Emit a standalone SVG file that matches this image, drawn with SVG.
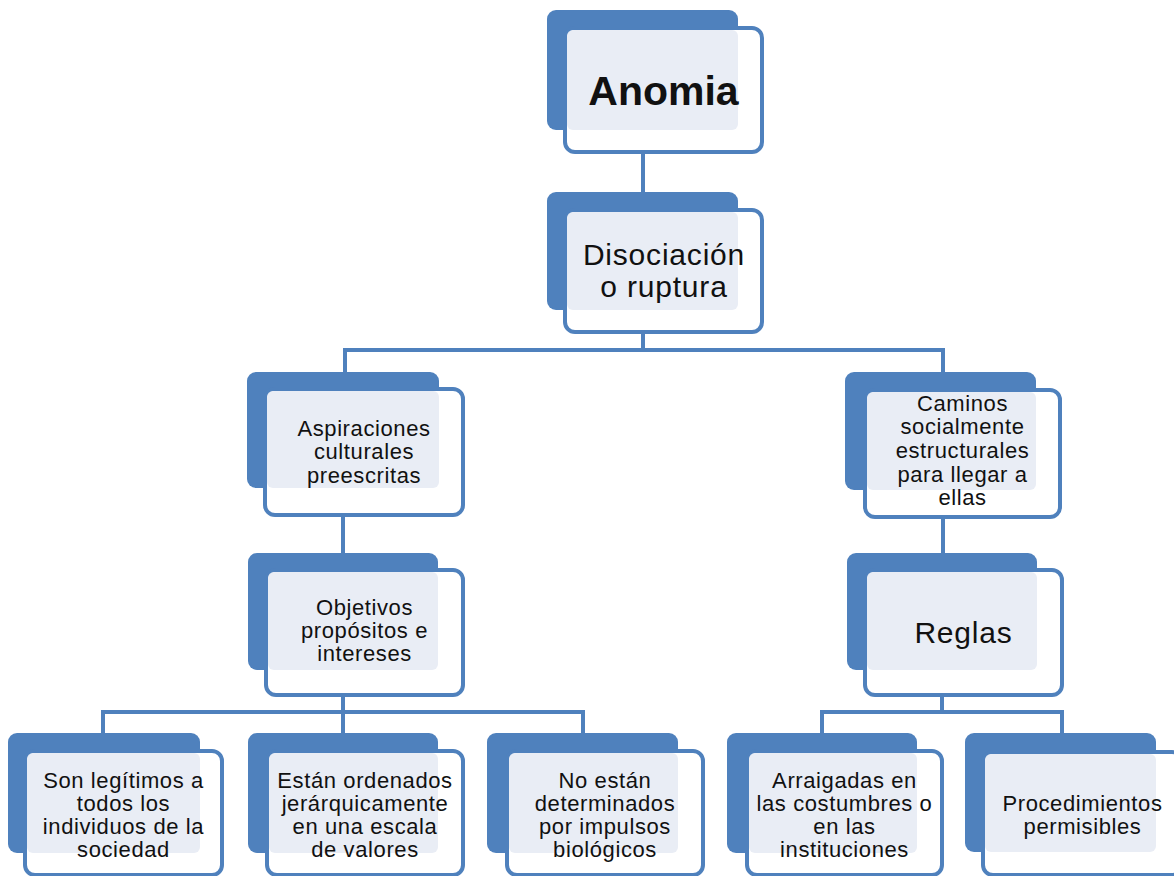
<svg xmlns="http://www.w3.org/2000/svg" width="1174" height="876" viewBox="0 0 1174 876">
<style>
.bk{fill:#4F81BD;}
.fr{fill:#FFFFFF;stroke:#4F81BD;stroke-width:4;}
.lt{fill:#E9EDF5;}
.cn{fill:none;stroke:#4F81BD;stroke-width:4;}
text{font-family:"Liberation Sans",Arial,sans-serif;fill:#111;text-anchor:middle;}
.s{font-size:22px;letter-spacing:0.6px;}
.m{font-size:30px;letter-spacing:0.8px;}
.b{font-size:41px;font-weight:bold;}
</style>
<rect width="1174" height="876" fill="#FFFFFF"/>
<g id="connectors">
<path class="cn" d="M643 150V194"/>
<path class="cn" d="M643 330V350M345 372V350H943V372"/>
<path class="cn" d="M343 513V555"/>
<path class="cn" d="M943 515V555"/>
<path class="cn" d="M343 693V712M103 735V712H583V735M343 712V735"/>
<path class="cn" d="M942 693V712M822 735V712H1062V735"/>
</g>
<g id="n-anomia">
<rect class="bk" x="547" y="10" width="191" height="120" rx="9"/>
<rect class="fr" x="565" y="28" width="197" height="124" rx="10"/>
<rect class="lt" x="567" y="30" width="171" height="100" rx="6"/>
<text class="b" x="663.5" y="105">Anomia</text>
</g>
<g id="n-disociacion">
<rect class="bk" x="547" y="192" width="191" height="118" rx="9"/>
<rect class="fr" x="565" y="210" width="197" height="122" rx="10"/>
<rect class="lt" x="567" y="212" width="171" height="98" rx="6"/>
<text class="m" x="664" y="265">Disociación</text>
<text class="m" x="664" y="297">o ruptura</text>
</g>
<g id="n-aspiraciones">
<rect class="bk" x="247" y="372" width="192" height="116" rx="9"/>
<rect class="fr" x="265" y="389" width="198" height="126" rx="10"/>
<rect class="lt" x="267" y="391" width="172" height="97" rx="6"/>
<text class="s" x="364" y="436">Aspiraciones</text>
<text class="s" x="364" y="459">culturales</text>
<text class="s" x="364" y="483">preescritas</text>
</g>
<g id="n-caminos">
<rect class="bk" x="845" y="372" width="191" height="118" rx="9"/>
<rect class="fr" x="865" y="390" width="195" height="127" rx="10"/>
<rect class="lt" x="867" y="392" width="169" height="98" rx="6"/>
<text class="s" x="962.5" y="411">Caminos</text>
<text class="s" x="962.5" y="434">socialmente</text>
<text class="s" x="962.5" y="458">estructurales</text>
<text class="s" x="962.5" y="482">para llegar a</text>
<text class="s" x="962.5" y="505">ellas</text>
</g>
<g id="n-objetivos">
<rect class="bk" x="248" y="553" width="190" height="117" rx="9"/>
<rect class="fr" x="266" y="570" width="197" height="125" rx="10"/>
<rect class="lt" x="268" y="572" width="170" height="98" rx="6"/>
<text class="s" x="364.5" y="615">Objetivos</text>
<text class="s" x="364.5" y="638">propósitos e</text>
<text class="s" x="364.5" y="661">intereses</text>
</g>
<g id="n-reglas">
<rect class="bk" x="847" y="553" width="190" height="117" rx="9"/>
<rect class="fr" x="865" y="570" width="197" height="125" rx="10"/>
<rect class="lt" x="867" y="572" width="170" height="98" rx="6"/>
<text class="m" x="963.5" y="643">Reglas</text>
</g>
<g id="n-legitimos">
<rect class="bk" x="8" y="733" width="192" height="120" rx="9"/>
<rect class="fr" x="25" y="751" width="197" height="124" rx="10"/>
<rect class="lt" x="27" y="753" width="173" height="100" rx="6"/>
<text class="s" x="123.5" y="788">Son legítimos a</text>
<text class="s" x="123.5" y="811">todos los</text>
<text class="s" x="123.5" y="834">individuos de la</text>
<text class="s" x="123.5" y="857">sociedad</text>
</g>
<g id="n-ordenados">
<rect class="bk" x="248" y="733" width="190" height="120" rx="9"/>
<rect class="fr" x="267" y="751" width="196" height="124" rx="10"/>
<rect class="lt" x="269" y="753" width="169" height="100" rx="6"/>
<text class="s" x="365" y="788">Están ordenados</text>
<text class="s" x="365" y="811">jerárquicamente</text>
<text class="s" x="365" y="834">en una escala</text>
<text class="s" x="365" y="857">de valores</text>
</g>
<g id="n-noestan">
<rect class="bk" x="487" y="733" width="191" height="120" rx="9"/>
<rect class="fr" x="507" y="751" width="196" height="124" rx="10"/>
<rect class="lt" x="509" y="753" width="169" height="100" rx="6"/>
<text class="s" x="605" y="788">No están</text>
<text class="s" x="605" y="811">determinados</text>
<text class="s" x="605" y="834">por impulsos</text>
<text class="s" x="605" y="857">biológicos</text>
</g>
<g id="n-arraigadas">
<rect class="bk" x="727" y="733" width="190" height="120" rx="9"/>
<rect class="fr" x="747" y="751" width="195" height="124" rx="10"/>
<rect class="lt" x="749" y="753" width="168" height="100" rx="6"/>
<text class="s" x="844.5" y="788">Arraigadas en</text>
<text class="s" x="844.5" y="811">las costumbres o</text>
<text class="s" x="844.5" y="834">en las</text>
<text class="s" x="844.5" y="857">instituciones</text>
</g>
<g id="n-procedimientos">
<rect class="bk" x="965" y="733" width="191" height="119" rx="9"/>
<rect class="fr" x="983" y="752" width="199" height="123" rx="10"/>
<rect class="lt" x="985" y="754" width="171" height="98" rx="6"/>
<text class="s" x="1082.5" y="811">Procedimientos</text>
<text class="s" x="1082.5" y="834">permisibles</text>
</g>
</svg>
